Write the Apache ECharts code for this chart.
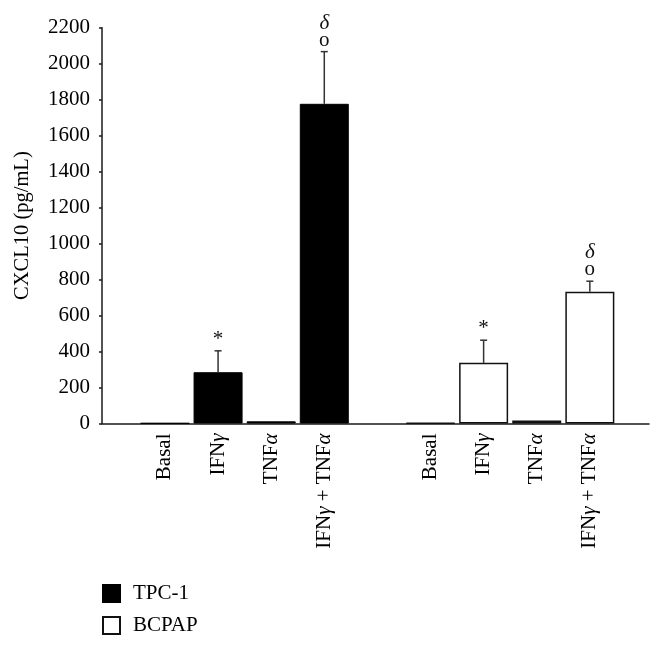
<!DOCTYPE html>
<html>
<head>
<meta charset="utf-8">
<script src="https://cdn.jsdelivr.net/npm/echarts@6/dist/echarts.min.js"></script>
<style>
html,body{margin:0;padding:0;background:#fff;}
#chart{width:664px;height:646px;}
</style>
</head>
<body>
<div id="chart"></div>
<script>
var categories = ['Basal', 'IFN\u03b3', 'TNF\u03b1', 'IFN\u03b3 + TNF\u03b1', '', 'Basal', 'IFN\u03b3', 'TNF\u03b1', 'IFN\u03b3 + TNF\u03b1'];
var tpc1Index = [0, 1, 2, 3];
var bcpapIndex = [5, 6, 7, 8];
var tpc1Values = [2, 285, 12, 1777];
var tpc1Err = [0, 119, 0, 290];
var tpc1Marks = ['', '*', '', '\u03b4\no'];
var bcpapValues = [3, 337, 17, 732];
var bcpapErr = [0, 126, 0, 59];
var bcpapMarks = ['', '*', '', '\u03b4\no'];
var yTicks = { min: 0, max: 2200, interval: 200 };

var FONT = '"Liberation Serif", "Times New Roman", serif';

function pad(idx, vals) {
  var arr = categories.map(function () { return '-'; });
  idx.forEach(function (k, i) { arr[k] = vals[i]; });
  return arr;
}
function errData(idx, vals, errs, marks) {
  return idx.map(function (k, i) { return [k, vals[i], vals[i] + errs[i], marks[i]]; });
}
function italGreek(s) {
  return s.replace(/([\u03b1-\u03c9])/g, '{g|$1}');
}

var errRows = errData(tpc1Index, tpc1Values, tpc1Err, tpc1Marks)
  .concat(errData(bcpapIndex, bcpapValues, bcpapErr, bcpapMarks));

var chart = echarts.init(document.getElementById('chart'), null, { renderer: 'canvas' });

chart.setOption({
  animation: false,
  backgroundColor: '#fff',
  grid: [
    { left: 102, right: 15, top: 27.7, bottom: 222.5 },
    { left: 138.4, right: 47.6, top: 27.7, bottom: 222.5 }
  ],
  xAxis: [
    { gridIndex: 0, type: 'value', min: 0, max: 1, axisLine: { show: true, onZero: false, lineStyle: { color: '#1a1a1a', width: 1.5 } }, axisTick: { show: false }, axisLabel: { show: false }, splitLine: { show: false } },
    { gridIndex: 1, type: 'category', data: categories, axisLine: { show: false }, axisTick: { show: false },
      axisLabel: { interval: 0, rotate: 90, margin: 10, color: '#000', fontFamily: FONT, fontSize: 21,
        formatter: function (v) { return italGreek(v); },
        rich: { g: { fontFamily: FONT, fontSize: 21, fontStyle: 'italic', color: '#000' } } } }
  ],
  yAxis: [
    { gridIndex: 0, type: 'value', min: yTicks.min, max: yTicks.max, interval: yTicks.interval,
      name: 'CXCL10 (pg/mL)', nameLocation: 'middle', nameGap: 69, nameRotate: 90,
      nameTextStyle: { color: '#000', fontFamily: FONT, fontSize: 20.5 },
      axisLine: { show: true, lineStyle: { color: '#1a1a1a', width: 1.5 } },
      axisTick: { show: true, inside: false, length: 3, lineStyle: { color: '#1a1a1a', width: 1.5 } },
      axisLabel: { margin: 12, color: '#000', fontFamily: FONT, fontSize: 21, formatter: function (v) { return String(v); } },
      splitLine: { show: false } },
    { gridIndex: 1, type: 'value', min: yTicks.min, max: yTicks.max, interval: yTicks.interval, show: false, splitLine: { show: false } }
  ],
  legend: {
    orient: 'vertical', left: 97, top: 578,
    itemWidth: 17, itemHeight: 17, itemGap: 11,
    icon: 'rect',
    textStyle: { color: '#000', fontFamily: FONT, fontSize: 21, padding: [0, 0, 0, 8] },
    data: ['TPC-1', 'BCPAP']
  },
  series: [
    { name: 'TPC-1', type: 'bar', xAxisIndex: 1, yAxisIndex: 1, barWidth: 49, barGap: '-100%',
      data: pad(tpc1Index, tpc1Values),
      itemStyle: { color: '#000', borderColor: '#000', borderWidth: 1 } },
    { name: 'BCPAP', type: 'bar', xAxisIndex: 1, yAxisIndex: 1, barWidth: 49, barGap: '-100%',
      data: pad(bcpapIndex, bcpapValues),
      itemStyle: { color: '#fff', borderColor: '#111', borderWidth: 1.5 } },
    { name: 'err', type: 'custom', xAxisIndex: 1, yAxisIndex: 1, z: 5,
      data: errRows,
      renderItem: function (params, api) {
        var x = api.value(0);
        var lo = api.coord([x, api.value(1)]);
        var hi = api.coord([x, api.value(2)]);
        var mark = errRows[params.dataIndex][3];
        var children = [];
        if (hi[1] < lo[1] - 1) {
          children.push({ type: 'line', shape: { x1: lo[0], y1: lo[1], x2: hi[0], y2: hi[1] }, style: { stroke: '#333', lineWidth: 1.5 } });
          children.push({ type: 'line', shape: { x1: hi[0] - 3.5, y1: hi[1], x2: hi[0] + 3.5, y2: hi[1] }, style: { stroke: '#333', lineWidth: 1.5 } });
        }
        if (mark) {
          children.push({ type: 'text', x: hi[0], y: hi[1] - 3,
            style: { text: italGreek(mark), fill: '#111', font: '21px ' + FONT, align: 'center', verticalAlign: 'bottom', lineHeight: 17,
              rich: { g: { font: 'italic 21px ' + FONT, fill: '#111', lineHeight: 17 } } } });
        }
        return { type: 'group', children: children };
      }
    }
  ]
});
</script>
</body>
</html>
